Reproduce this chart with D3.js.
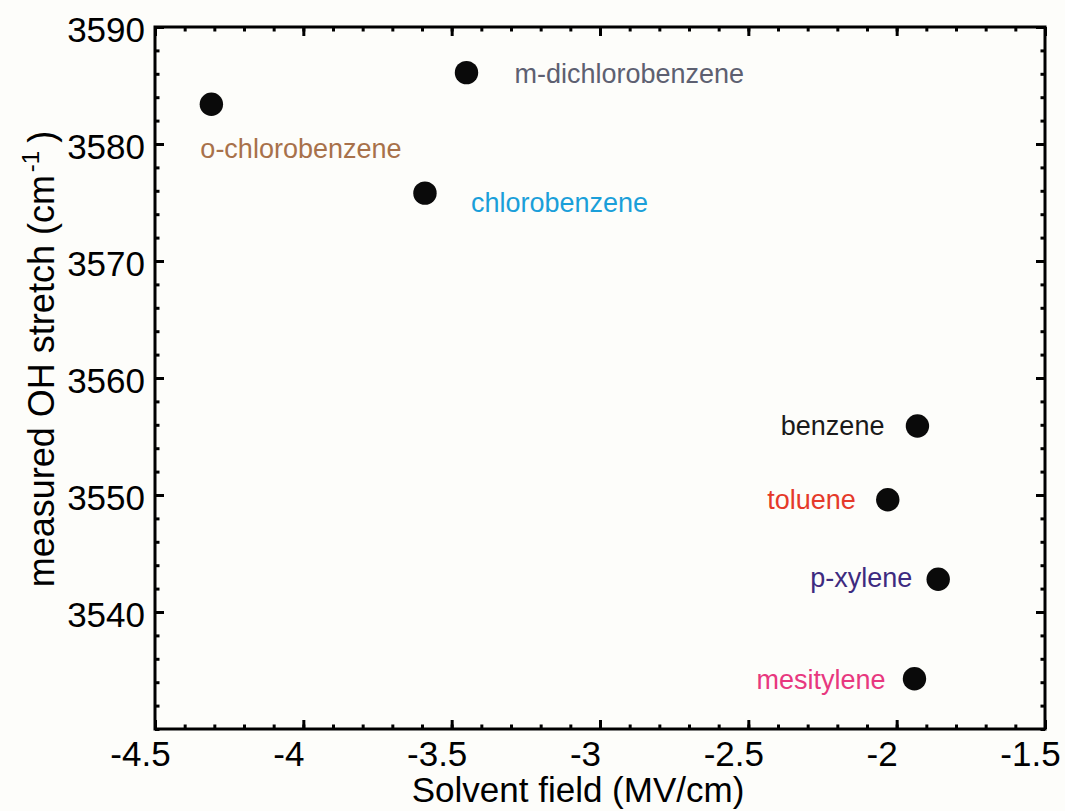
<!DOCTYPE html>
<html>
<head>
<meta charset="utf-8">
<script src="https://cdn.jsdelivr.net/npm/d3@7"></script>
<style>
  html, body { margin: 0; padding: 0; background: #fdfdfa; }
  svg { display: block; font-family: "Liberation Sans", Arial, Helvetica, sans-serif; }
  .axis path.domain { display: none; }
  .axis line { stroke: #000; stroke-width: 3; }
  .axis text { fill: #000; font-size: 35px; }
</style>
</head>
<body>
<div id="chart"></div>
<script>
// solvents and measured values
const solvents = ["o-chlorobenzene", "m-dichlorobenzene", "chlorobenzene", "benzene", "toluene", "p-xylene", "mesitylene"];
const solventField = [-4.31, -3.45, -3.59, -1.93, -2.03, -1.86, -1.94];
const ohStretch = [3583.4, 3586.1, 3575.8, 3555.9, 3549.6, 3542.8, 3534.3];

const xTicks = [-4.5, -4, -3.5, -3, -2.5, -2, -1.5];
const yTicks = [3540, 3550, 3560, 3570, 3580, 3590];

// label placement / colours (layout only)
const labelStyle = {
    "o-chlorobenzene":   { anchor: "start", dx: -11, dy: 54, color: "#a8714a" },
    "m-dichlorobenzene": { anchor: "start", dx: 48,  dy: 10, color: "#5d6071" },
    "chlorobenzene":     { anchor: "start", dx: 46,  dy: 19, color: "#1a9fd9" },
    "benzene":           { anchor: "end",   dx: -33, dy: 9,  color: "#1a1a1a" },
    "toluene":           { anchor: "end",   dx: -32, dy: 9,  color: "#e5392a" },
    "p-xylene":          { anchor: "end",   dx: -26, dy: 8,  color: "#3d2b80" },
    "mesitylene":        { anchor: "end",   dx: -29, dy: 10, color: "#e8387f" }
};

const width = 1065, height = 811;
const margin = { left: 155, right: 20, top: 27, bottom: 82 };
const innerW = width - margin.left - margin.right;
const innerH = height - margin.top - margin.bottom;

const x = d3.scaleLinear().domain([-4.5, -1.5]).range([0, innerW]);
const y = d3.scaleLinear().domain([3530, 3590]).range([innerH, 0]);

const xMinor = d3.range(-4.5, -1.5 + 1e-9, 0.1).map(v => +v.toFixed(2));
const yMinor = d3.range(3530, 3590 + 1e-9, 2);

const svg = d3.select("#chart").append("svg")
    .attr("width", width)
    .attr("height", height);

const g = svg.append("g")
    .attr("transform", "translate(" + margin.left + "," + margin.top + ")");

// minor ticks on all four sides
g.append("g").attr("class", "axis")
    .attr("transform", "translate(0," + innerH + ")")
    .call(d3.axisBottom(x).tickValues(xMinor).tickSize(-4.5).tickFormat(""));
g.append("g").attr("class", "axis")
    .call(d3.axisTop(x).tickValues(xMinor).tickSize(-4.5).tickFormat(""));
g.append("g").attr("class", "axis")
    .call(d3.axisLeft(y).tickValues(yMinor).tickSize(-4.5).tickFormat(""));
g.append("g").attr("class", "axis")
    .attr("transform", "translate(" + innerW + ",0)")
    .call(d3.axisRight(y).tickValues(yMinor).tickSize(-4.5).tickFormat(""));

// major ticks + labels
g.append("g").attr("class", "axis")
    .attr("transform", "translate(0," + innerH + ")")
    .call(d3.axisBottom(x).tickValues(xTicks).tickSize(-9).tickPadding(0).tickFormat(d => String(d).replace("\u2212", "-")))
    .call(s => s.selectAll("text").attr("y", 37).attr("dy", 0).attr("dx", -15));
g.append("g").attr("class", "axis")
    .call(d3.axisTop(x).tickValues(xTicks).tickSize(-9).tickFormat(""));
g.append("g").attr("class", "axis")
    .call(d3.axisLeft(y).tickValues(yTicks).tickSize(-9).tickFormat(d3.format("d")))
    .call(s => s.selectAll("text").attr("x", -10).attr("dy", "0.42em"));
g.append("g").attr("class", "axis")
    .attr("transform", "translate(" + innerW + ",0)")
    .call(d3.axisRight(y).tickValues(yTicks).tickSize(-9).tickFormat(""));

// frame
g.append("rect")
    .attr("width", innerW)
    .attr("height", innerH)
    .attr("fill", "none")
    .attr("stroke", "#000")
    .attr("stroke-width", 3);

// points
const data = solvents.map((name, i) => ({ name: name, field: solventField[i], stretch: ohStretch[i] }));

g.selectAll("circle.pt")
    .data(data)
    .enter().append("circle")
    .attr("class", "pt")
    .attr("cx", d => x(d.field))
    .attr("cy", d => y(d.stretch))
    .attr("r", 11.7)
    .attr("fill", "#0a0a0a");

g.selectAll("text.lbl")
    .data(data)
    .enter().append("text")
    .attr("class", "lbl")
    .attr("x", d => x(d.field) + labelStyle[d.name].dx)
    .attr("y", d => y(d.stretch) + labelStyle[d.name].dy)
    .attr("text-anchor", d => labelStyle[d.name].anchor)
    .style("fill", d => labelStyle[d.name].color)
    .style("font-size", "27px")
    .text(d => d.name);

// axis titles
svg.append("text")
    .attr("x", 578)
    .attr("y", 802)
    .attr("text-anchor", "middle")
    .style("font-size", "35px")
    .text("Solvent field (MV/cm)");

const yTitle = svg.append("text")
    .attr("transform", "translate(54,359) rotate(-90)")
    .attr("text-anchor", "middle")
    .style("font-size", "36px");
yTitle.append("tspan").text("measured OH stretch (cm");
yTitle.append("tspan").attr("dx", 3).attr("dy", -15).style("font-size", "24px").text("-1");
yTitle.append("tspan").attr("dx", 8).attr("dy", 15).text(")");
</script>
</body>
</html>
